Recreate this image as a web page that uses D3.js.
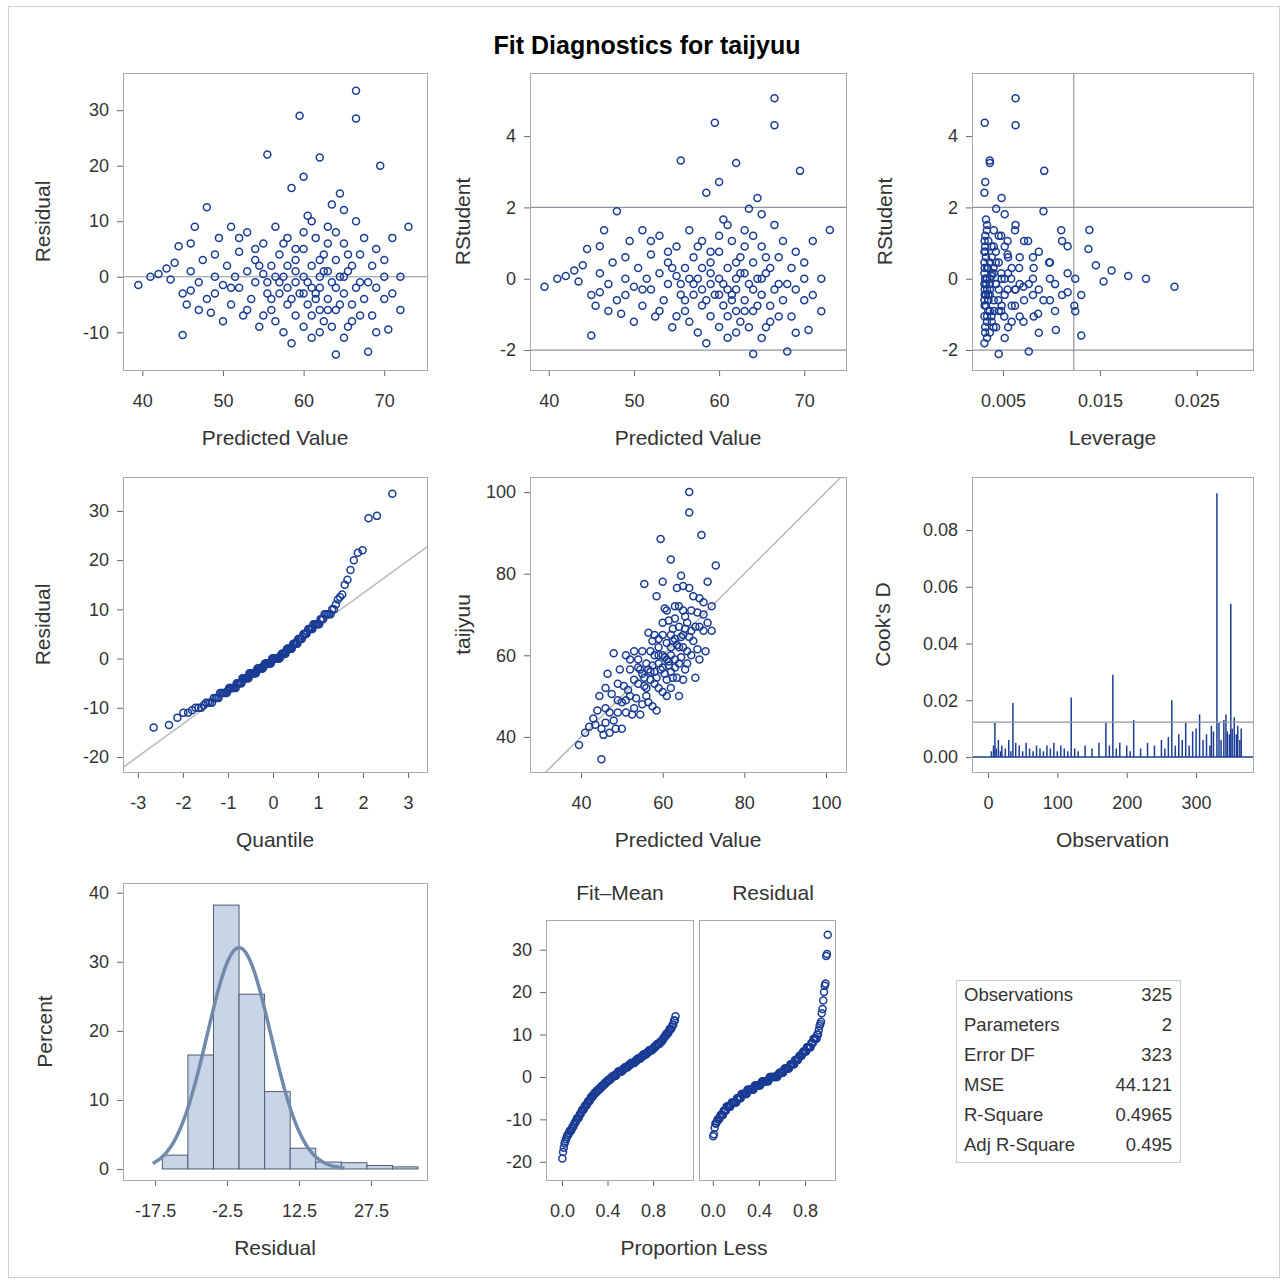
<!DOCTYPE html>
<html>
<head>
<meta charset="utf-8">
<script src="https://d3js.org/d3.v7.min.js"></script>
<style>
  body { margin: 0; background: #fff; }
  text { font-family: "Liberation Sans", Arial, sans-serif; fill: #333; }
</style>
</head>
<body>
<svg id="chart" width="1288" height="1283"></svg>
<script>
// predicted value / residual pairs
var predicted = [39.5,41,42,43,43.5,44,44.5,45,45,45.5,46,46,46.5,47,47.5,48,48,48.5,49,49,49.5,50,50.5,51,51,51.5,52,52,52.5,53,53,53.5,54,54,54.5,55,55,55.5,55.5,56,56,56.5,56.5,57,57,57.5,57.5,58,58,58,58.5,58.5,59,59,59,59.5,59.5,60,60,60,60,60.5,60.5,61,61,61,61.5,61.5,62,62,62,62,62.5,62.5,63,63,63,63.5,63.5,64,64,64,64.5,64.5,65,65,65,65.5,65.5,66,66,66.5,66.5,66.5,67,67,67.5,68,68,68.5,69,69,69.5,70,70,70.5,71,72,72,73,
  57,58,59,60,61,62,63,64,65,66,67,59,60,61,62,63,64,65,56,55,54,53,52,51,50,49,60.5,61.5,62.5,63.5,64.5,65.5,66.5,67.5,68.5,58.5,57.5,56.5,55.5,54.5,47,46,70,71,69];
var residual = [-1.5,0,0.5,1.5,-0.5,2.5,5.5,-3,-10.5,-5,1,-2.5,9,-1,3,-4,12.5,-6.5,0,-3,7,-1.5,2,-5,9,0,-2,4.5,-7,1,8,-4,-1,3,-9,0.5,6,-3,22,-6,2,9,-8,-1,4,-10,0,-5,7,-2,16,-12,1,-7,3,29,-3,18,-9,0,5,-1,-5,10,-11,2,-3,7,-6,0,21.5,-2,4,-8,1,-4,9,-1,13,-14,3,-6,0,15,-3,12,6,-9,1,-5,2,33.5,28.5,-2,-7,4,7,-13.5,-1,2,-10,5,20,-4,0,-9.5,-3,0,-6,9,
  -3,2,-1,-3,-2,3,-6,-2,0,-8,-1,5,8,-7,-10,6,8,-11,-4,-7,5,-6,7,-2,-8,4,11,-4,1,-9,-5,4,10,-4,-7,-4,6,0,-1,2,-6,6,3,7,-2];

var statLabels = ["Observations","Parameters","Error DF","MSE","R-Square","Adj R-Square"];
var statValues = ["325","2","323","44.121","0.4965","0.495"];
var nObs = 325, mse = 44.121;

// histogram of residuals (percent per bin), bins start at -16, width 16/3
var histStart = -16, histWidth = 16 / 3;
var histPercent = [2, 16.5, 38.2, 25.3, 11.2, 3, 1, 0.9, 0.5, 0.3];

// Cook's D needles [observation, D]
var cooksObs = [5,8,10,12,15,18,20,25,30,33,36,40,45,50,55,60,65,70,75,80,85,90,95,100,105,110,115,120,125,130,140,150,160,170,175,180,185,190,200,205,210,220,230,240,250,255,260,265,270,275,280,285,290,295,300,305,310,315,320,322,325,330,333,336,340,343,345,348,350,352,355,358,360,363,365];
var cooksD =   [0.002,0.004,0.012,0.003,0.006,0.002,0.004,0.003,0.006,0.002,0.019,0.005,0.004,0.002,0.005,0.003,0.002,0.004,0.003,0.002,0.004,0.003,0.005,0.002,0.004,0.003,0.002,0.021,0.003,0.002,0.004,0.003,0.005,0.012,0.004,0.029,0.003,0.005,0.004,0.002,0.013,0.003,0.005,0.004,0.006,0.003,0.007,0.020,0.004,0.008,0.006,0.012,0.004,0.009,0.010,0.015,0.006,0.008,0.004,0.011,0.009,0.093,0.012,0.006,0.013,0.015,0.009,0.008,0.054,0.010,0.014,0.008,0.011,0.006,0.010];

var n = predicted.length;
var meanPred = d3.mean(predicted);
var sxx = d3.sum(predicted, function(p) { return (p - meanPred) * (p - meanPred); }) * nObs / n;
var pts = predicted.map(function(p, i) {
  var h = 1 / nObs + (p - meanPred) * (p - meanPred) / sxx;
  var r = residual[i];
  return { pred: p, res: r, lev: h, rstud: r / Math.sqrt(mse * (1 - h)), obs: p + r };
});

// inverse normal (Acklam)
function probit(p) {
  var a = [-39.69683028665376,220.9460984245205,-275.9285104469687,138.3577518672690,-30.66479806614716,2.506628277459239];
  var b = [-54.47609879822406,161.5858368580409,-155.6989798598866,66.80131188771972,-13.28068155211639];
  var c = [-0.007784894002430293,-0.3223964580411365,-2.400758277161838,-2.549732539343734,4.374664141464968,2.938163982698783];
  var d = [0.007784695709041462,0.3224671290700398,2.445134137142996,3.754408661907416];
  var q, r;
  if (p < 0.02425) { q = Math.sqrt(-2 * Math.log(p));
    return (((((c[0]*q+c[1])*q+c[2])*q+c[3])*q+c[4])*q+c[5]) / ((((d[0]*q+d[1])*q+d[2])*q+d[3])*q+1); }
  if (p > 1 - 0.02425) { q = Math.sqrt(-2 * Math.log(1 - p));
    return -(((((c[0]*q+c[1])*q+c[2])*q+c[3])*q+c[4])*q+c[5]) / ((((d[0]*q+d[1])*q+d[2])*q+d[3])*q+1); }
  q = p - 0.5; r = q * q;
  return (((((a[0]*r+a[1])*r+a[2])*r+a[3])*r+a[4])*r+a[5])*q / (((((b[0]*r+b[1])*r+b[2])*r+b[3])*r+b[4])*r+1);
}

var svg = d3.select("#chart");
var blue = "#1b3c94", refc = "#8e959e";
var dash = function(f) { return function(v) { return f(v).replace("\u2212", "-"); }; };

svg.append("rect").attr("x", 8.5).attr("y", 6.5).attr("width", 1271).attr("height", 1271)
  .attr("fill", "none").attr("stroke", "#d0d0d0");
svg.append("text").attr("x", 647).attr("y", 54).attr("text-anchor", "middle")
  .style("font-size", "25px").style("font-weight", "bold").style("fill", "#000").text("Fit Diagnostics for taijyuu");

function panel(o) {
  var x = d3.scaleLinear().domain(o.xd).range([o.x0, o.x1]);
  var y = d3.scaleLinear().domain(o.yd).range([o.y1, o.y0]);
  var g = svg.append("g");
  var clip = "c" + Math.round(o.x0) + "_" + Math.round(o.y0);
  g.append("clipPath").attr("id", clip).append("rect")
    .attr("x", o.x0).attr("y", o.y0).attr("width", o.x1 - o.x0).attr("height", o.y1 - o.y0);
  var body = g.append("g").attr("clip-path", "url(#" + clip + ")");
  var xa = g.append("g").attr("transform", "translate(0," + o.y1 + ")")
    .call(d3.axisBottom(x).tickValues(o.xt).tickFormat(dash(o.xf || d3.format(""))).tickSizeOuter(0).tickSize(6).tickPadding(18));
  if (o.yt) {
    var ya = g.append("g").attr("transform", "translate(" + o.x0 + ",0)")
      .call(d3.axisLeft(y).tickValues(o.yt).tickFormat(dash(o.yf || d3.format(""))).tickSizeOuter(0).tickSize(6).tickPadding(8));
    ya.select(".domain").remove();
    ya.selectAll("line").attr("stroke", "#666");
    ya.selectAll("text").style("font-size", "18px").style("fill", "#333");
  }
  xa.select(".domain").remove();
  xa.selectAll("line").attr("stroke", "#666");
  xa.selectAll("text").style("font-size", "18px").style("fill", "#333");
  g.append("rect").attr("x", o.x0 + 0.5).attr("y", o.y0 + 0.5).attr("width", o.x1 - o.x0).attr("height", o.y1 - o.y0)
    .attr("fill", "none").attr("stroke", "#a8a8a8");
  if (o.xl) svg.append("text").attr("x", o.xlx || (o.x0 + o.x1) / 2).attr("y", o.y1 + 75).attr("text-anchor", "middle")
    .style("font-size", "21px").text(o.xl);
  if (o.yl) svg.append("text").attr("transform", "translate(" + o.ylx + "," + (o.y0 + o.y1) / 2 + ") rotate(-90)")
    .attr("text-anchor", "middle").style("font-size", "21px").text(o.yl);
  return { x: x, y: y, g: body };
}

function hline(p, v) {
  p.g.append("line").attr("x1", p.x.range()[0]).attr("x2", p.x.range()[1]).attr("y1", p.y(v)).attr("y2", p.y(v))
    .attr("stroke", refc).attr("stroke-width", 1.2);
}
function dots(p, data, fx, fy) {
  p.g.selectAll(null).data(data).enter().append("circle")
    .attr("cx", function(d) { return p.x(fx(d)); }).attr("cy", function(d) { return p.y(fy(d)); })
    .attr("r", 3.5).attr("fill", "none").attr("stroke", blue).attr("stroke-width", 1.5);
}

// Row 1
var p1 = panel({x0:123,x1:427,y0:73,y1:370,xd:[37.6,75.3],yd:[-16.8,36.7],xt:[40,50,60,70],yt:[-10,0,10,20,30],xl:"Predicted Value",yl:"Residual",ylx:50});
hline(p1, 0);
dots(p1, pts, function(d){return d.pred;}, function(d){return d.res;});

var p2 = panel({x0:530,x1:846,y0:73,y1:370,xd:[37.8,74.9],yd:[-2.56,5.77],xt:[40,50,60,70],yt:[-2,0,2,4],xl:"Predicted Value",yl:"RStudent",ylx:470});
hline(p2, 2); hline(p2, -2);
dots(p2, pts, function(d){return d.pred;}, function(d){return d.rstud;});

var p3 = panel({x0:972,x1:1253,y0:73,y1:370,xd:[0.0018,0.0308],yd:[-2.56,5.77],xt:[0.005,0.015,0.025],xf:d3.format(".3f"),yt:[-2,0,2,4],xl:"Leverage",yl:"RStudent",ylx:892});
hline(p3, 2); hline(p3, -2);
p3.g.append("line").attr("x1", p3.x(4 / nObs)).attr("x2", p3.x(4 / nObs)).attr("y1", 73).attr("y2", 370).attr("stroke", refc).attr("stroke-width", 1.2);
dots(p3, pts, function(d){return d.lev;}, function(d){return d.rstud;});

// Row 2
var p4 = panel({x0:123,x1:427,y0:477,y1:772,xd:[-3.33,3.42],yd:[-23.05,36.9],xt:[-3,-2,-1,0,1,2,3],yt:[-20,-10,0,10,20,30],xl:"Quantile",yl:"Residual",ylx:50});
var sortedRes = residual.slice().sort(d3.ascending);
var qq = sortedRes.map(function(r, i) { return { q: probit((i + 0.625) / (n + 0.25)), r: r }; });
var s = Math.sqrt(mse);
p4.g.append("line").attr("x1", p4.x(-3.33)).attr("x2", p4.x(3.42)).attr("y1", p4.y(-3.33 * s)).attr("y2", p4.y(3.42 * s))
  .attr("stroke", "#b8b8b8").attr("stroke-width", 1.5);
dots(p4, qq, function(d){return d.q;}, function(d){return d.r;});

var p5 = panel({x0:530,x1:846,y0:477,y1:772,xd:[27.5,104.9],yd:[31.4,103.7],xt:[40,60,80,100],yt:[40,60,80,100],xl:"Predicted Value",yl:"taijyuu",ylx:470});
p5.g.append("line").attr("x1", p5.x(25)).attr("x2", p5.x(110)).attr("y1", p5.y(25)).attr("y2", p5.y(110))
  .attr("stroke", "#b8b8b8").attr("stroke-width", 1.5);
dots(p5, pts, function(d){return d.pred;}, function(d){return d.obs;});

var p6 = panel({x0:972,x1:1253,y0:477,y1:772,xd:[-23,382],yd:[-0.0053,0.0987],xt:[0,100,200,300],yt:[0,0.02,0.04,0.06,0.08],yf:d3.format(".2f"),xl:"Observation",yl:"Cook's D",ylx:890});
p6.g.append("line").attr("x1", 972).attr("x2", 1253).attr("y1", p6.y(0)).attr("y2", p6.y(0)).attr("stroke", blue).attr("stroke-width", 1.5);
p6.g.selectAll(null).data(cooksObs).enter().append("line")
  .attr("x1", function(d){return p6.x(d);}).attr("x2", function(d){return p6.x(d);})
  .attr("y1", p6.y(0)).attr("y2", function(d, i){return p6.y(cooksD[i]);})
  .attr("stroke", blue).attr("stroke-width", 1.5);
hline(p6, 4 / nObs);

// Row 3
var p7 = panel({x0:123,x1:427,y0:883,y1:1180,xd:[-24.2,39.2],yd:[-1.6,41.4],xt:[-17.5,-2.5,12.5,27.5],yt:[0,10,20,30,40],xl:"Residual",yl:"Percent",ylx:52});
p7.g.selectAll(null).data(histPercent).enter().append("rect")
  .attr("x", function(d, i){return p7.x(histStart + i * histWidth);})
  .attr("width", p7.x(histWidth) - p7.x(0))
  .attr("y", function(d){return p7.y(d);})
  .attr("height", function(d){return p7.y(0) - p7.y(d);})
  .attr("fill", "#c9d4e7").attr("stroke", "#4d5a73").attr("stroke-width", 1);
var curve = d3.range(-18, 22.01, 0.25).map(function(v) {
  return [v, 100 * histWidth / (s * Math.sqrt(2 * Math.PI)) * Math.exp(-v * v / (2 * mse))];
});
p7.g.append("path").datum(curve)
  .attr("d", d3.line().x(function(d){return p7.x(d[0]);}).y(function(d){return p7.y(d[1]);}))
  .attr("fill", "none").attr("stroke", "#7189ab").attr("stroke-width", 3.5);

var fitMean = predicted.map(function(p){return p - meanPred;}).sort(d3.ascending)
  .map(function(v, i){return { p: (i + 0.5) / n, v: v };});
var resProp = sortedRes.map(function(v, i){return { p: (i + 0.5) / n, v: v };});
var p8a = panel({x0:546,x1:693,y0:920,y1:1180,xd:[-0.14,1.15],yd:[-24.3,37],xt:[0,0.4,0.8],xf:d3.format(".1f"),yt:[-20,-10,0,10,20,30],xl:"Proportion Less",xlx:694});
dots(p8a, fitMean, function(d){return d.p;}, function(d){return d.v;});
var p8b = panel({x0:699,x1:835,y0:920,y1:1180,xd:[-0.12,1.06],yd:[-24.3,37],xt:[0,0.4,0.8],xf:d3.format(".1f")});
dots(p8b, resProp, function(d){return d.p;}, function(d){return d.v;});
svg.append("text").attr("x", 620).attr("y", 900).attr("text-anchor", "middle").style("font-size", "21px").text("Fit\u2013Mean");
svg.append("text").attr("x", 773).attr("y", 900).attr("text-anchor", "middle").style("font-size", "21px").text("Residual");

// statistics box
svg.append("rect").attr("x", 956.5).attr("y", 980.5).attr("width", 224).attr("height", 182)
  .attr("fill", "none").attr("stroke", "#c8c8c8");
statLabels.forEach(function(l, i) {
  svg.append("text").attr("x", 964).attr("y", 1001 + i * 30).style("font-size", "18.5px").text(l);
  svg.append("text").attr("x", 1172).attr("y", 1001 + i * 30).attr("text-anchor", "end").style("font-size", "18.5px").text(statValues[i]);
});
</script>
</body>
</html>
